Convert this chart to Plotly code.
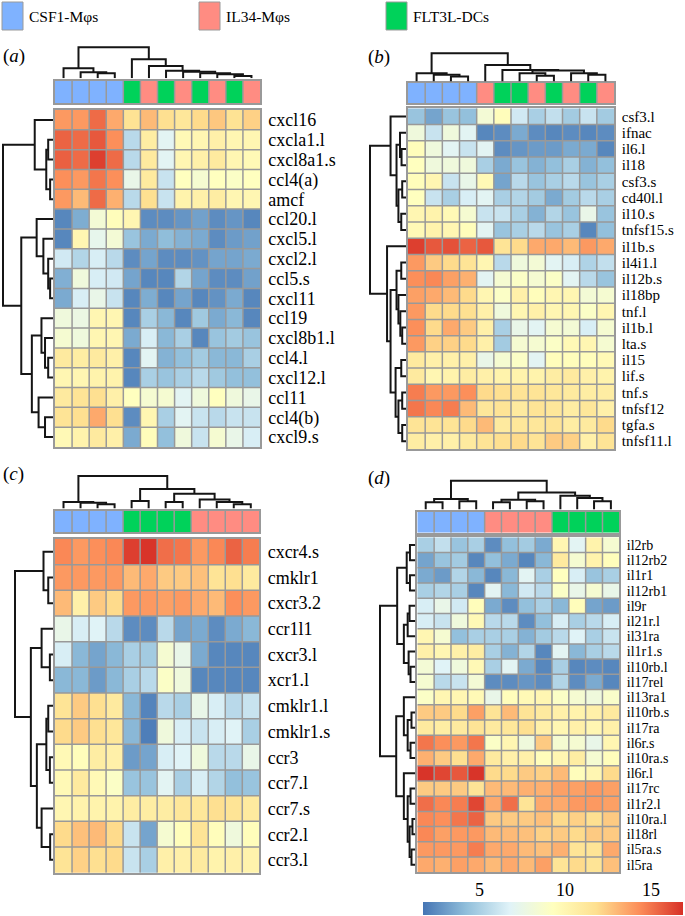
import plotly.graph_objects as go

W, H = 685, 916

# ---------------- data ----------------
GROUP_NAMES = ["CSF1-Mφs", "IL34-Mφs", "FLT3L-DCs"]
GROUP_COLORS = ["#7fb2ff", "#ff8c82", "#00d25a"]

Z_MIN, Z_MAX = 1.7, 16.9
CB_TICKS = [5, 10, 15]

# (a) chemokines
A_ROWS = ["cxcl16", "cxcla1.l", "cxcl8a1.s", "ccl4(a)", "amcf", "ccl20.l", "cxcl5.l", "cxcl2.l",
          "ccl5.s", "cxcl11", "ccl19", "cxcl8b1.l", "ccl4.l", "cxcl12.l", "ccl11", "ccl4(b)", "cxcl9.s"]
A_GROUPS = [0, 0, 0, 0, 2, 1, 2, 1, 2, 1, 2, 1]
A_VALUES = [
    [14.0, 14.0, 15.3, 13.5, 11.6, 13.0, 11.8, 11.3, 12.0, 12.6, 11.6, 12.3],
    [15.5, 15.3, 15.8, 14.3, 5.5, 10.8, 7.0, 9.8, 10.0, 10.5, 10.0, 10.0],
    [15.6, 15.3, 16.5, 15.3, 5.5, 11.0, 7.0, 10.0, 10.5, 11.0, 10.0, 9.8],
    [14.3, 14.0, 15.0, 14.3, 7.5, 11.0, 6.0, 9.3, 8.5, 9.3, 9.0, 9.3],
    [14.0, 13.0, 15.3, 13.3, 5.5, 11.8, 6.0, 10.3, 10.5, 10.8, 10.0, 10.0],
    [2.3, 3.6, 8.3, 9.5, 10.0, 2.5, 2.5, 2.8, 3.2, 2.5, 2.8, 2.3],
    [2.3, 10.0, 7.3, 8.3, 4.5, 3.5, 4.2, 3.8, 3.5, 2.5, 3.0, 3.2],
    [6.3, 5.3, 6.5, 5.5, 2.5, 3.3, 2.5, 2.5, 2.7, 3.3, 3.3, 3.5],
    [3.7, 8.0, 6.5, 6.3, 3.3, 2.3, 2.3, 5.3, 3.3, 2.5, 2.5, 3.2],
    [3.5, 6.5, 7.5, 6.0, 2.3, 3.6, 2.3, 3.3, 2.3, 2.7, 3.5, 2.3],
    [8.0, 7.7, 10.0, 10.0, 2.3, 5.0, 4.0, 2.3, 4.7, 3.5, 4.0, 2.3],
    [8.5, 8.0, 10.0, 10.0, 3.5, 6.5, 4.0, 5.0, 2.3, 4.5, 4.8, 4.5],
    [11.0, 10.8, 11.0, 10.5, 2.3, 7.0, 3.8, 4.3, 4.8, 4.0, 4.0, 5.0],
    [10.0, 10.0, 10.3, 10.3, 2.3, 5.0, 4.5, 5.0, 5.5, 4.7, 4.3, 4.3],
    [11.0, 11.5, 11.8, 10.5, 9.3, 8.5, 8.5, 7.0, 8.0, 9.3, 8.0, 7.5],
    [11.5, 11.8, 13.5, 11.8, 2.5, 10.0, 5.0, 7.0, 6.0, 5.5, 6.0, 6.0],
    [9.8, 10.3, 11.0, 10.5, 3.5, 9.5, 4.3, 8.0, 6.0, 8.5, 7.5, 6.5],
]
# dendrograms: [height, left, right]; leaves = display index
A_COL_TREE = [93, [30, 0, [18, 1, [15, 2, 3]]],
              [57, 4, [37, 5, [23, 6, [20, 7, [15, 8, [12, 9, [7, 10, 11]]]]]]]]
A_ROW_TREE = [52, [19, 0, [7, [5, 1, 2], [3, 3, 4]]],
              [33, [17, 5, [10, 6, [5, 7, [3, 8, 9]]]],
               [22, [12, 10, [8.3, 11, [5, 12, 13]]], [15, 14, [8.3, 15, 16]]]]]

# (b) cytokines
B_ROWS = ["csf3.l", "ifnac", "il6.l", "il18", "csf3.s", "cd40l.l", "il10.s", "tnfsf15.s", "il1b.s",
          "il4i1.l", "il12b.s", "il18bp", "tnf.l", "il1b.l", "lta.s", "il15", "lif.s", "tnf.s",
          "tnfsf12", "tgfa.s", "tnfsf11.l"]
B_GROUPS = [0, 0, 0, 0, 1, 2, 2, 1, 2, 1, 2, 1]
B_VALUES = [
    [4.5, 3.3, 4.5, 4.3, 8.3, 9.5, 6.3, 5.0, 5.8, 4.8, 6.0, 4.8],
    [8.0, 6.0, 8.0, 7.0, 2.3, 2.5, 3.5, 2.5, 2.3, 2.5, 2.3, 2.5],
    [9.5, 8.0, 7.0, 6.0, 7.0, 2.5, 2.8, 3.0, 3.0, 3.5, 3.5, 2.3],
    [9.3, 8.0, 8.0, 8.0, 5.0, 3.5, 4.5, 3.8, 4.3, 5.0, 3.8, 4.3],
    [9.5, 10.0, 6.0, 7.5, 9.8, 3.3, 5.5, 4.5, 5.0, 5.5, 4.5, 5.0],
    [9.3, 6.0, 5.0, 6.5, 7.0, 5.0, 5.3, 4.8, 3.5, 4.8, 5.5, 5.0],
    [10.0, 10.3, 9.8, 8.5, 6.0, 6.0, 5.0, 3.8, 5.3, 4.5, 7.5, 4.5],
    [9.8, 10.3, 10.0, 9.5, 7.0, 4.5, 5.0, 5.5, 4.5, 5.0, 2.3, 4.3],
    [16.5, 15.8, 16.0, 15.5, 15.8, 11.5, 12.0, 13.5, 13.5, 13.0, 14.0, 13.5],
    [14.0, 12.5, 12.0, 11.5, 10.0, 5.5, 8.0, 8.3, 7.0, 6.5, 5.2, 5.8],
    [14.3, 14.5, 13.8, 13.3, 7.0, 8.5, 9.0, 8.5, 9.0, 7.0, 5.5, 4.5],
    [13.8, 13.5, 13.0, 12.0, 10.0, 9.0, 10.5, 9.5, 10.0, 10.0, 8.3, 8.5],
    [14.0, 12.0, 12.0, 11.8, 10.5, 8.0, 10.0, 10.5, 10.0, 10.0, 9.0, 10.0],
    [14.3, 12.0, 13.5, 12.5, 10.5, 5.0, 7.5, 7.0, 8.5, 8.3, 6.5, 8.5],
    [14.0, 12.3, 12.3, 12.0, 10.5, 4.8, 8.5, 8.5, 9.0, 9.8, 10.0, 8.5],
    [11.0, 10.5, 10.5, 10.5, 7.5, 8.5, 9.0, 7.0, 9.5, 9.5, 9.5, 9.8],
    [11.0, 10.0, 10.3, 10.8, 10.5, 10.3, 10.3, 10.3, 10.8, 11.0, 10.5, 10.3],
    [14.8, 14.0, 14.0, 14.3, 12.0, 11.8, 11.5, 11.5, 11.3, 11.0, 10.8, 10.8],
    [15.0, 14.5, 14.8, 13.0, 11.3, 11.5, 11.0, 11.5, 11.3, 10.8, 11.3, 10.5],
    [11.5, 11.5, 11.5, 12.0, 13.0, 11.0, 11.3, 11.3, 11.5, 10.8, 11.0, 12.0],
    [10.8, 10.5, 10.5, 11.0, 11.5, 11.8, 12.0, 11.5, 12.5, 12.3, 10.5, 11.5],
]
B_COL_TREE = [85, [25, 0, [20, 1, [15, 2, 3]]],
              [50, 4, [35, 5, [33, [25, 6, [17, 7, 8]], [25, 9, [20, 10, 11]]]]]]
B_ROW_TREE = [38, [16.3, 0, [10, [6.3, 1, [4.7, 2, 3]], [8, [4, 4, 5], [5, 6, 7]]]],
              [20, 8, [16.3, [10, [5, 9, 10], [8, 11, [6, 12, [4, 13, 14]]]],
                       [11, [5, 15, 16], [8, [4, 17, 18], [4, 19, 20]]]]]]

# (c) chemokine receptors
C_ROWS = ["cxcr4.s", "cmklr1", "cxcr3.2", "ccr1l1", "cxcr3.l", "xcr1.l", "cmklr1.l", "cmklr1.s",
          "ccr3", "ccr7.l", "ccr7.s", "ccr2.l", "ccr3.l"]
C_GROUPS = [0, 0, 0, 0, 2, 2, 2, 2, 1, 1, 1, 1]
C_VALUES = [
    [14.5, 14.0, 14.3, 14.5, 16.5, 16.8, 15.2, 15.0, 14.0, 14.5, 15.5, 14.8],
    [14.0, 14.0, 14.0, 14.0, 13.0, 13.5, 12.5, 12.5, 12.8, 11.5, 11.8, 11.0],
    [13.0, 10.5, 12.5, 12.0, 14.0, 14.0, 13.8, 14.0, 13.5, 13.0, 14.3, 14.0],
    [7.5, 6.5, 6.8, 5.5, 2.5, 2.5, 5.5, 3.3, 3.5, 2.5, 3.5, 4.0],
    [6.5, 4.0, 3.3, 4.0, 5.0, 4.8, 8.5, 7.5, 3.5, 2.3, 2.3, 2.3],
    [4.0, 4.0, 3.0, 4.0, 5.0, 5.5, 9.0, 8.0, 2.3, 2.3, 2.3, 2.3],
    [11.5, 12.5, 11.8, 11.0, 4.0, 2.2, 5.5, 5.0, 7.5, 6.5, 5.5, 6.0],
    [12.0, 12.5, 11.8, 11.3, 4.0, 2.0, 8.0, 6.5, 6.0, 6.5, 6.8, 5.0],
    [9.8, 9.5, 10.8, 10.5, 3.0, 3.3, 6.5, 6.8, 8.0, 5.5, 5.5, 7.5],
    [9.8, 11.0, 9.8, 9.0, 4.5, 4.5, 7.0, 5.0, 6.5, 5.3, 4.3, 4.5],
    [10.0, 10.3, 10.3, 10.3, 10.8, 10.8, 10.8, 11.3, 11.3, 11.8, 11.5, 11.0],
    [12.0, 12.8, 13.0, 12.0, 6.0, 3.3, 8.5, 9.5, 11.5, 9.5, 8.0, 9.5],
    [11.5, 12.3, 11.8, 12.0, 6.0, 5.0, 10.5, 10.5, 11.0, 10.3, 10.5, 10.3],
]
C_COL_TREE = [100, [20, 0, [18, 1, [13, 2, 3]]],
              [60, [23, 4, 5], [45, [20, 6, 7], [28, 8, [20, 9, [13, 10, 11]]]]]]
C_ROW_TREE = [40, [10, 0, [5, 1, 2]],
              [23.3, [12, 3, [3.3, 4, 5]],
               [17, [7, [5, 6, 7], [3.3, 8, 9]], [12, 10, [3, 11, 12]]]]]

# (d) cytokine receptors
D_ROWS = ["il2rb", "il12rb2", "il1r1", "il12rb1", "il9r", "il21r.l", "il31ra", "il1r1.s", "il10rb.l",
          "il17rel", "il13ra1", "il10rb.s", "il17ra", "il6r.s", "il10ra.s", "il6r.l", "il17rc",
          "il1r2.l", "il10ra.l", "il18rl", "il5ra.s", "il5ra"]
D_GROUPS = [0, 0, 0, 0, 1, 1, 1, 1, 2, 2, 2, 2]
D_VALUES = [
    [5.0, 5.8, 4.5, 5.0, 2.5, 4.3, 4.8, 3.5, 10.0, 7.0, 10.3, 8.5],
    [3.3, 4.5, 4.8, 2.3, 4.3, 3.5, 2.3, 4.0, 11.0, 8.5, 10.3, 9.5],
    [3.5, 3.0, 5.3, 4.0, 2.3, 4.0, 7.0, 5.0, 9.3, 6.5, 4.5, 5.0],
    [5.0, 5.3, 5.0, 2.3, 7.0, 4.0, 6.3, 5.5, 9.0, 7.5, 8.5, 7.5],
    [6.5, 7.5, 6.3, 9.5, 3.5, 2.5, 4.3, 5.0, 4.0, 9.5, 3.3, 3.0],
    [6.5, 6.0, 8.0, 9.8, 5.5, 5.5, 2.5, 4.3, 6.5, 5.0, 5.5, 6.5],
    [10.0, 8.5, 4.3, 5.0, 5.0, 5.0, 3.8, 4.8, 5.5, 6.8, 5.0, 6.0],
    [10.5, 10.0, 10.5, 10.8, 5.0, 3.8, 5.3, 2.3, 7.0, 4.0, 5.0, 5.5],
    [8.3, 6.8, 8.0, 9.8, 5.0, 7.0, 3.5, 2.3, 5.0, 2.3, 2.5, 2.3],
    [8.5, 5.5, 6.0, 8.3, 2.5, 2.5, 2.8, 2.5, 5.3, 2.5, 3.5, 2.3],
    [9.0, 10.0, 10.0, 9.8, 7.5, 9.5, 9.8, 10.0, 9.0, 8.5, 8.0, 8.8],
    [12.5, 12.5, 12.0, 13.8, 11.5, 13.0, 11.5, 11.0, 10.5, 10.3, 10.5, 11.0],
    [11.0, 10.8, 11.0, 11.5, 11.0, 11.3, 11.8, 10.5, 10.0, 10.5, 10.0, 10.5],
    [15.0, 14.3, 14.0, 15.0, 9.0, 10.0, 8.0, 12.5, 8.5, 8.5, 7.5, 10.0],
    [13.3, 12.5, 11.8, 13.5, 11.0, 10.5, 10.5, 9.5, 10.0, 10.8, 8.5, 9.5],
    [16.8, 16.3, 15.8, 16.8, 12.0, 12.0, 12.5, 12.3, 13.0, 9.5, 10.0, 12.0],
    [12.5, 12.5, 12.5, 11.5, 13.0, 13.0, 13.3, 13.3, 13.8, 13.8, 14.0, 13.8],
    [15.2, 14.5, 14.8, 16.3, 13.5, 15.2, 11.5, 13.5, 13.5, 14.0, 14.0, 13.8],
    [14.5, 14.3, 15.0, 15.5, 12.5, 12.5, 12.5, 12.8, 12.0, 12.3, 11.8, 12.5],
    [14.5, 13.8, 14.0, 14.0, 13.0, 13.0, 12.8, 12.3, 12.5, 12.0, 12.5, 12.5],
    [14.0, 14.0, 14.0, 14.8, 13.5, 13.5, 13.0, 12.8, 13.3, 11.5, 11.5, 13.5],
    [13.5, 13.3, 13.8, 13.5, 13.0, 13.5, 13.0, 13.8, 11.5, 12.0, 11.5, 12.8],
]
D_COL_TREE = [88, [32, [22, 0, 1], [25, 2, 3]],
              [52, [30, [22, 4, 5], [25, 6, 7]], [42, 8, [35, 9, [25, 10, 11]]]]]
D_ROW_TREE = [37, [19, [9, [5.6, 0, 1], [5.6, 2, 3]], [12, [8, [6, 4, 5], 6], [7, 7, [5, 8, 9]]]],
              [20, [12, 10, [8, [4, 11, 12], [5, 13, 14]]],
               [12, 15, [8, [5, 16, 17], [6, [3, 18, 19], [4, 20, 21]]]]]]

# ---------------- style / layout ----------------
COLORSCALE = [[0.0, "#4575b4"], [1 / 6, "#91bfdb"], [2 / 6, "#e0f3f8"], [3 / 6, "#ffffbf"],
              [4 / 6, "#fee090"], [5 / 6, "#fc8d59"], [1.0, "#d73027"]]
GRID = "#999999"
DENDRO = "#151515"
SERIF = "Liberation Serif"


def fx(px):
    return px / W


def fy(py):
    return 1 - py / H


# pixel geometry per panel
PANELS = [
    dict(label="a", rows=A_ROWS, groups=A_GROUPS, z=A_VALUES, ctree=A_COL_TREE, rtree=A_ROW_TREE,
         hm=(55, 260, 110, 447), bar=(81, 103), top=(78.3, 47.3), side=(3, 53), lab=(1, 56), fs=18),
    dict(label="b", rows=B_ROWS, groups=B_GROUPS, z=B_VALUES, ctree=B_COL_TREE, rtree=B_ROW_TREE,
         hm=(408, 614, 108.3, 449.3), bar=(83, 103.3), top=(81.5, 53.3), side=(370, 406), lab=(366, 57), fs=15),
    dict(label="c", rows=C_ROWS, groups=C_GROUPS, z=C_VALUES, ctree=C_COL_TREE, rtree=C_ROW_TREE,
         hm=(55, 259.3, 539, 872.7), bar=(510.7, 532.3), top=(508.5, 476), side=(15, 53), lab=(1, 474), fs=18),
    dict(label="d", rows=D_ROWS, groups=D_GROUPS, z=D_VALUES, ctree=D_COL_TREE, rtree=D_ROW_TREE,
         hm=(417.3, 619.3, 537.3, 872.3), bar=(511.7, 532.7), top=(509.5, 480.7), side=(380, 415.3), lab=(366, 478), fs=14),
]


def dendro_segments(tree):
    pos, hts = [], []

    def walk(node):
        if isinstance(node, int):
            return float(node), 0.0
        h, left, right = node
        pl, hl = walk(left)
        pr, hr = walk(right)
        pos.extend([pl, pl, pr, pr, None])
        hts.extend([hl, h, h, hr, None])
        return (pl + pr) / 2, h

    walk(tree)
    return pos, hts


def grid_lines(n, m, vertical_only=False):
    xs, ys = [], []
    for j in range(1, m):
        xs += [j - 0.5, j - 0.5, None]
        ys += [-0.5, n - 0.5, None]
    if not vertical_only:
        for i in range(1, n):
            xs += [-0.5, m - 0.5, None]
            ys += [i - 0.5, i - 0.5, None]
    return xs, ys


def ax_key(letter, k):
    return f"{letter}axis" if k == 1 else f"{letter}axis{k}"


def ax_ref(letter, k):
    return letter if k == 1 else f"{letter}{k}"


BASE_AX = dict(showgrid=False, zeroline=False, showticklabels=False, ticks="", fixedrange=True)
BORDER = dict(showline=True, mirror=True, linecolor=GRID, linewidth=1.5)

fig = go.Figure()
layout = {}
annotations = []
shapes = []

for p, P in enumerate(PANELS):
    n, m = len(P["rows"]), len(P["groups"])
    x0, x1, y0, y1 = P["hm"]
    k_hm, k_bar, k_top, k_side = 4 * p + 1, 4 * p + 2, 4 * p + 3, 4 * p + 4

    # heatmap
    fig.add_trace(go.Heatmap(z=P["z"], x=list(range(m)), y=list(range(n)), coloraxis="coloraxis",
                             xaxis=ax_ref("x", k_hm), yaxis=ax_ref("y", k_hm), hoverinfo="z"))
    gx, gy = grid_lines(n, m)
    fig.add_trace(go.Scatter(x=gx, y=gy, mode="lines", line=dict(color=GRID, width=1.5),
                             xaxis=ax_ref("x", k_hm), yaxis=ax_ref("y", k_hm),
                             hoverinfo="skip", showlegend=False))
    layout[ax_key("x", k_hm)] = dict(BASE_AX, **BORDER, domain=[fx(x0), fx(x1)],
                                     range=[-0.5, m - 0.5], anchor=ax_ref("y", k_hm))
    layout[ax_key("y", k_hm)] = dict(BASE_AX, **BORDER, domain=[fy(y1), fy(y0)],
                                     range=[n - 0.5, -0.5], anchor=ax_ref("x", k_hm),
                                     side="right", showticklabels=True, tickmode="array",
                                     tickvals=list(range(n)), ticktext=P["rows"],
                                     tickfont=dict(family=SERIF, size=P["fs"], color="#000"),
                                     ticklabelstandoff=3)

    # group annotation bar
    b0, b1 = P["bar"]
    fig.add_trace(go.Heatmap(z=[P["groups"]], x=list(range(m)), y=[0], zmin=0, zmax=2,
                             colorscale=[[0, GROUP_COLORS[0]], [0.5, GROUP_COLORS[1]], [1, GROUP_COLORS[2]]],
                             showscale=False, xaxis=ax_ref("x", k_bar), yaxis=ax_ref("y", k_bar),
                             hoverinfo="skip"))
    bx, by = grid_lines(1, m, vertical_only=True)
    fig.add_trace(go.Scatter(x=bx, y=by, mode="lines", line=dict(color=GRID, width=1.5),
                             xaxis=ax_ref("x", k_bar), yaxis=ax_ref("y", k_bar),
                             hoverinfo="skip", showlegend=False))
    layout[ax_key("x", k_bar)] = dict(BASE_AX, **BORDER, domain=[fx(x0), fx(x1)],
                                      range=[-0.5, m - 0.5], anchor=ax_ref("y", k_bar))
    layout[ax_key("y", k_bar)] = dict(BASE_AX, **BORDER, domain=[fy(b1), fy(b0)],
                                      range=[-0.5, 0.5], anchor=ax_ref("x", k_bar))

    # column dendrogram
    leaf_px, root_px = P["top"]
    cpos, chts = dendro_segments(P["ctree"])
    hmax = P["ctree"][0]
    pad = 3
    fig.add_trace(go.Scatter(x=cpos, y=chts, mode="lines", line=dict(color=DENDRO, width=2),
                             xaxis=ax_ref("x", k_top), yaxis=ax_ref("y", k_top),
                             hoverinfo="skip", showlegend=False))
    layout[ax_key("x", k_top)] = dict(BASE_AX, domain=[fx(x0), fx(x1)], range=[-0.5, m - 0.5],
                                      anchor=ax_ref("y", k_top))
    layout[ax_key("y", k_top)] = dict(BASE_AX, domain=[fy(leaf_px), fy(root_px - pad)],
                                      range=[0, hmax * (leaf_px - root_px + pad) / (leaf_px - root_px)],
                                      anchor=ax_ref("x", k_top))

    # row dendrogram
    root_x, leaf_x = P["side"]
    rpos, rhts = dendro_segments(P["rtree"])
    rmax = P["rtree"][0]
    fig.add_trace(go.Scatter(x=rhts, y=rpos, mode="lines", line=dict(color=DENDRO, width=2),
                             xaxis=ax_ref("x", k_side), yaxis=ax_ref("y", k_side),
                             hoverinfo="skip", showlegend=False))
    layout[ax_key("x", k_side)] = dict(BASE_AX, domain=[fx(root_x - pad), fx(leaf_x)],
                                       range=[rmax * (leaf_x - root_x + pad) / (leaf_x - root_x), 0],
                                       anchor=ax_ref("y", k_side))
    layout[ax_key("y", k_side)] = dict(BASE_AX, domain=[fy(y1), fy(y0)], range=[n - 0.5, -0.5],
                                       anchor=ax_ref("x", k_side))

    # panel label
    lx, ly = P["lab"]
    annotations.append(dict(text=f"(<i>{P['label']}</i>)", x=fx(lx), y=fy(ly), xref="paper", yref="paper",
                            xanchor="left", yanchor="middle", showarrow=False,
                            font=dict(family=SERIF, size=19, color="#000")))

# legend (group key) at the top
LEGEND_X = [2, 199, 386]
for name, color, lx in zip(GROUP_NAMES, GROUP_COLORS, LEGEND_X):
    shapes.append(dict(type="rect", xref="paper", yref="paper", x0=fx(lx), x1=fx(lx + 21),
                       y0=fy(30), y1=fy(2), fillcolor=color, line=dict(color="#9a9a9a", width=1)))
    annotations.append(dict(text=name, x=fx(lx + 25), y=fy(16), xref="paper", yref="paper",
                            xanchor="left", yanchor="middle", showarrow=False,
                            font=dict(family=SERIF, size=15.5, color="#000")))

# colour bar (bottom right) with tick labels above it
CB_X0, CB_X1, CB_Y0, CB_Y1 = 423, 683, 902, 915
for t in CB_TICKS:
    tx = CB_X0 + (t - Z_MIN) / (Z_MAX - Z_MIN) * (CB_X1 - CB_X0)
    annotations.append(dict(text=str(t), x=fx(tx), y=fy(890), xref="paper", yref="paper",
                            xanchor="center", yanchor="middle", showarrow=False,
                            font=dict(family=SERIF, size=18, color="#000")))

fig.update_layout(
    width=W, height=H, autosize=False,
    margin=dict(l=0, r=0, t=0, b=0, pad=0),
    paper_bgcolor="white", plot_bgcolor="white",
    showlegend=False,
    coloraxis=dict(colorscale=COLORSCALE, cmin=Z_MIN, cmax=Z_MAX,
                   colorbar=dict(orientation="h", x=fx((CB_X0 + CB_X1) / 2), xanchor="center",
                                 y=fy(CB_Y1), yanchor="bottom", len=(CB_X1 - CB_X0) / W, lenmode="fraction",
                                 thickness=CB_Y1 - CB_Y0, thicknessmode="pixels", xpad=0, ypad=0,
                                 outlinewidth=0, showticklabels=False, ticks="")),
    annotations=annotations,
    shapes=shapes,
    **layout,
)

fig.write_html("out.html", config={"displayModeBar": False},
               post_script="document.body.style.margin='0px';")
